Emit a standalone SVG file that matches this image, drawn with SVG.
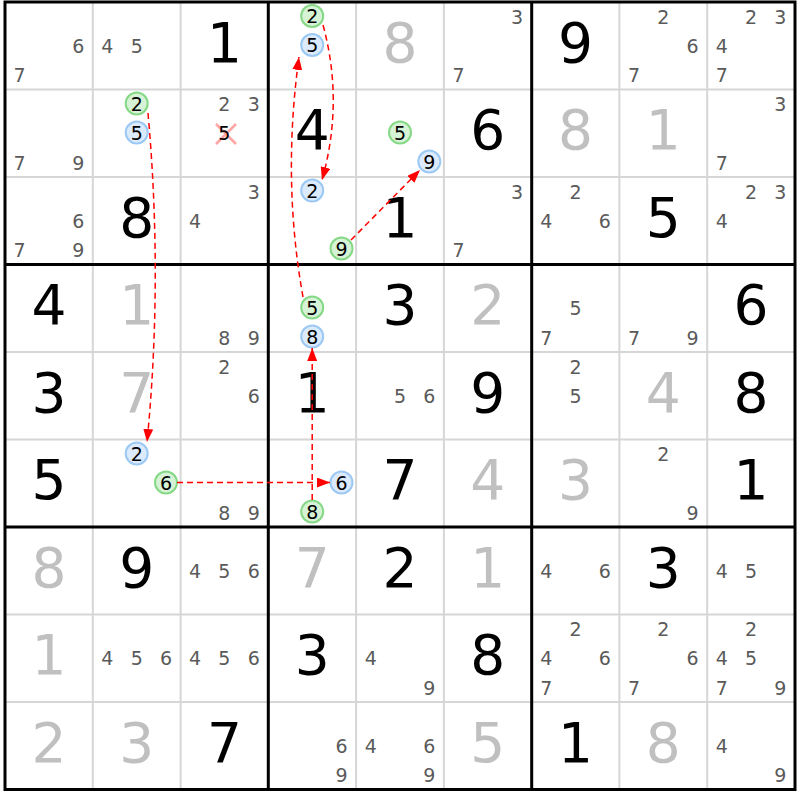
<svg xmlns="http://www.w3.org/2000/svg" width="800" height="800" viewBox="0 0 800 800">
<defs>
<style>
text{font-family:"DejaVu Sans","Verdana",sans-serif;text-anchor:middle}
.s{font-size:55px;fill:#000}
.g{font-size:55px;fill:#c0c0c0}
.c{font-size:19px;fill:#5a5a5a}
.k{font-size:19px;fill:#000}
.thin{stroke:#d6d6d6;stroke-width:2}
.thick{stroke:#000;stroke-width:3}
.gr{fill:#d6f3d6;stroke:#85d885;stroke-width:2}
.bl{fill:#dbeafc;stroke:#9cc8f4;stroke-width:2}
.ln{fill:none;stroke:#ff0000;stroke-width:1.5;stroke-dasharray:6 4;marker-end:url(#ah)}
</style>
<marker id="ah" markerUnits="userSpaceOnUse" markerWidth="13" markerHeight="10" refX="13" refY="5" orient="auto">
<path d="M0,0 L13,5 L0,10 z" fill="#ff0000"/>
</marker>
</defs>
<rect x="0" y="0" width="800" height="800" fill="#fff"/>
<g id="grid">
<path class="thin" d="M92.8,2V789.5M180.6,2V789.5M356.1,2V789.5M443.9,2V789.5M619.4,2V789.5M707.2,2V789.5M5,89.5H795M5,177H795M5,352H795M5,439.5H795M5,614.5H795M5,702H795"/>
<path class="thick" d="M268.3,2V789.5M531.7,2V789.5M5,264.5H795M5,527H795"/>
<rect x="5" y="2" width="790" height="787.5" fill="none" stroke="#000" stroke-width="3"/>
</g>
<g id="values">
<text class="s" x="224.4" y="61.75">1</text><text class="g" x="400" y="61.75">8</text><text class="s" x="575.6" y="61.75">9</text>
<text class="s" x="312.2" y="149.25">4</text><text class="s" x="487.8" y="149.25">6</text><text class="g" x="575.6" y="149.25">8</text><text class="g" x="663.3" y="149.25">1</text>
<text class="s" x="136.7" y="236.75">8</text><text class="s" x="400" y="236.75">1</text><text class="s" x="663.3" y="236.75">5</text>
<text class="s" x="48.9" y="324.25">4</text><text class="g" x="136.7" y="324.25">1</text><text class="s" x="400" y="324.25">3</text><text class="g" x="487.8" y="324.25">2</text><text class="s" x="751.1" y="324.25">6</text>
<text class="s" x="48.9" y="411.75">3</text><text class="g" x="136.7" y="411.75">7</text><text class="s" x="312.2" y="411.75">1</text><text class="s" x="487.8" y="411.75">9</text><text class="g" x="663.3" y="411.75">4</text><text class="s" x="751.1" y="411.75">8</text>
<text class="s" x="48.9" y="499.25">5</text><text class="s" x="400" y="499.25">7</text><text class="g" x="487.8" y="499.25">4</text><text class="g" x="575.6" y="499.25">3</text><text class="s" x="751.1" y="499.25">1</text>
<text class="g" x="48.9" y="586.75">8</text><text class="s" x="136.7" y="586.75">9</text><text class="g" x="312.2" y="586.75">7</text><text class="s" x="400" y="586.75">2</text><text class="g" x="487.8" y="586.75">1</text><text class="s" x="663.3" y="586.75">3</text>
<text class="g" x="48.9" y="674.25">1</text><text class="s" x="312.2" y="674.25">3</text><text class="s" x="487.8" y="674.25">8</text>
<text class="g" x="48.9" y="761.75">2</text><text class="g" x="136.7" y="761.75">3</text><text class="s" x="224.4" y="761.75">7</text><text class="g" x="487.8" y="761.75">5</text><text class="s" x="575.6" y="761.75">1</text><text class="g" x="663.3" y="761.75">8</text>
</g>
<g id="candidates" class="c">
<text class="c" x="78.2" y="52.7">6</text><text class="c" x="19.6" y="82">7</text>
<text class="c" x="107.4" y="52.7">4</text><text class="c" x="136.7" y="52.7">5</text>
<text class="c" x="517.1" y="23.5">3</text><text class="c" x="458.5" y="82">7</text>
<text class="c" x="663.3" y="23.5">2</text><text class="c" x="692.6" y="52.7">6</text><text class="c" x="634" y="82">7</text>
<text class="c" x="751.1" y="23.5">2</text><text class="c" x="780.4" y="23.5">3</text><text class="c" x="721.8" y="52.7">4</text><text class="c" x="721.8" y="82">7</text>
<text class="c" x="19.6" y="169.5">7</text><text class="c" x="78.2" y="169.5">9</text>
<text class="c" x="224.4" y="111">2</text><text class="c" x="253.7" y="111">3</text>
<text class="c" x="780.4" y="111">3</text><text class="c" x="721.8" y="169.5">7</text>
<text class="c" x="78.2" y="227.8">6</text><text class="c" x="19.6" y="257">7</text><text class="c" x="78.2" y="257">9</text>
<text class="c" x="253.7" y="198.5">3</text><text class="c" x="195.1" y="227.8">4</text>
<text class="c" x="517.1" y="198.5">3</text><text class="c" x="458.5" y="257">7</text>
<text class="c" x="575.6" y="198.5">2</text><text class="c" x="546.3" y="227.8">4</text><text class="c" x="604.9" y="227.8">6</text>
<text class="c" x="751.1" y="198.5">2</text><text class="c" x="780.4" y="198.5">3</text><text class="c" x="721.8" y="227.8">4</text>
<text class="c" x="224.4" y="344.5">8</text><text class="c" x="253.7" y="344.5">9</text>
<text class="c" x="575.6" y="315.3">5</text><text class="c" x="546.3" y="344.5">7</text>
<text class="c" x="634" y="344.5">7</text><text class="c" x="692.6" y="344.5">9</text>
<text class="c" x="224.4" y="373.5">2</text><text class="c" x="253.7" y="402.8">6</text>
<text class="c" x="400" y="402.8">5</text><text class="c" x="429.3" y="402.8">6</text>
<text class="c" x="575.6" y="373.5">2</text><text class="c" x="575.6" y="402.8">5</text>
<text class="c" x="224.4" y="519.5">8</text><text class="c" x="253.7" y="519.5">9</text>
<text class="c" x="663.3" y="461">2</text><text class="c" x="692.6" y="519.5">9</text>
<text class="c" x="195.1" y="577.8">4</text><text class="c" x="224.4" y="577.8">5</text><text class="c" x="253.7" y="577.8">6</text>
<text class="c" x="546.3" y="577.8">4</text><text class="c" x="604.9" y="577.8">6</text>
<text class="c" x="721.8" y="577.8">4</text><text class="c" x="751.1" y="577.8">5</text>
<text class="c" x="107.4" y="665.3">4</text><text class="c" x="136.7" y="665.3">5</text><text class="c" x="166" y="665.3">6</text>
<text class="c" x="195.1" y="665.3">4</text><text class="c" x="224.4" y="665.3">5</text><text class="c" x="253.7" y="665.3">6</text>
<text class="c" x="370.7" y="665.3">4</text><text class="c" x="429.3" y="694.5">9</text>
<text class="c" x="575.6" y="636">2</text><text class="c" x="546.3" y="665.3">4</text><text class="c" x="604.9" y="665.3">6</text><text class="c" x="546.3" y="694.5">7</text>
<text class="c" x="663.3" y="636">2</text><text class="c" x="692.6" y="665.3">6</text><text class="c" x="634" y="694.5">7</text>
<text class="c" x="751.1" y="636">2</text><text class="c" x="721.8" y="665.3">4</text><text class="c" x="751.1" y="665.3">5</text><text class="c" x="721.8" y="694.5">7</text><text class="c" x="780.4" y="694.5">9</text>
<text class="c" x="341.5" y="752.8">6</text><text class="c" x="341.5" y="782">9</text>
<text class="c" x="370.7" y="752.8">4</text><text class="c" x="429.3" y="752.8">6</text><text class="c" x="429.3" y="782">9</text>
<text class="c" x="721.8" y="752.8">4</text><text class="c" x="780.4" y="782">9</text>
</g>
<g id="elim-r2c3-5">
<path d="M216,124 L236,144 M236,124 L216,144" stroke="#ffa5a5" stroke-width="2.5" fill="none"/>
<text class="k" x="224.4" y="140.3">5</text>
</g>
<g id="n-r1c4-2"><circle class="gr" cx="312.2" cy="16" r="11"/><text class="k" x="312.2" y="23">2</text></g>
<g id="n-r1c4-5"><circle class="bl" cx="312.2" cy="45" r="11"/><text class="k" x="312.2" y="52">5</text></g>
<g id="n-r2c2-2"><circle class="gr" cx="136.7" cy="103.5" r="11"/><text class="k" x="136.7" y="110.5">2</text></g>
<g id="n-r2c2-5"><circle class="bl" cx="136.7" cy="132.5" r="11"/><text class="k" x="136.7" y="139.5">5</text></g>
<g id="n-r2c5-5"><circle class="gr" cx="400" cy="132.5" r="11"/><text class="k" x="400" y="139.5">5</text></g>
<g id="n-r2c5-9"><circle class="bl" cx="429.3" cy="161.5" r="11"/><text class="k" x="429.3" y="168.5">9</text></g>
<g id="n-r3c4-2"><circle class="bl" cx="312.2" cy="190.5" r="11"/><text class="k" x="312.2" y="197.5">2</text></g>
<g id="n-r3c4-9"><circle class="gr" cx="341.5" cy="248.5" r="11"/><text class="k" x="341.5" y="255.5">9</text></g>
<g id="n-r4c4-5"><circle class="gr" cx="312.2" cy="307.5" r="11"/><text class="k" x="312.2" y="314.5">5</text></g>
<g id="n-r4c4-8"><circle class="bl" cx="312.2" cy="336.5" r="11"/><text class="k" x="312.2" y="343.5">8</text></g>
<g id="n-r6c2-2"><circle class="bl" cx="136.7" cy="453.5" r="11"/><text class="k" x="136.7" y="460.5">2</text></g>
<g id="n-r6c2-6"><circle class="gr" cx="166" cy="482.5" r="11"/><text class="k" x="166" y="489.5">6</text></g>
<g id="n-r6c4-6"><circle class="bl" cx="341.5" cy="482.5" r="11"/><text class="k" x="341.5" y="489.5">6</text></g>
<g id="n-r6c4-8"><circle class="gr" cx="312.2" cy="511.5" r="11"/><text class="k" x="312.2" y="518.5">8</text></g>
<g id="connectors">
<path class="ln" d="M148,113 Q163,280 147,442"/>
<path class="ln" d="M177,482.5 L330,482.5"/>
<path class="ln" d="M312.2,500 L312.2,348"/>
<path class="ln" d="M303,297 Q282,180 299,57"/>
<path class="ln" d="M323,25 Q344,102 322,180"/>
<path class="ln" d="M351,240 L420,170"/>
</g>
</svg>
